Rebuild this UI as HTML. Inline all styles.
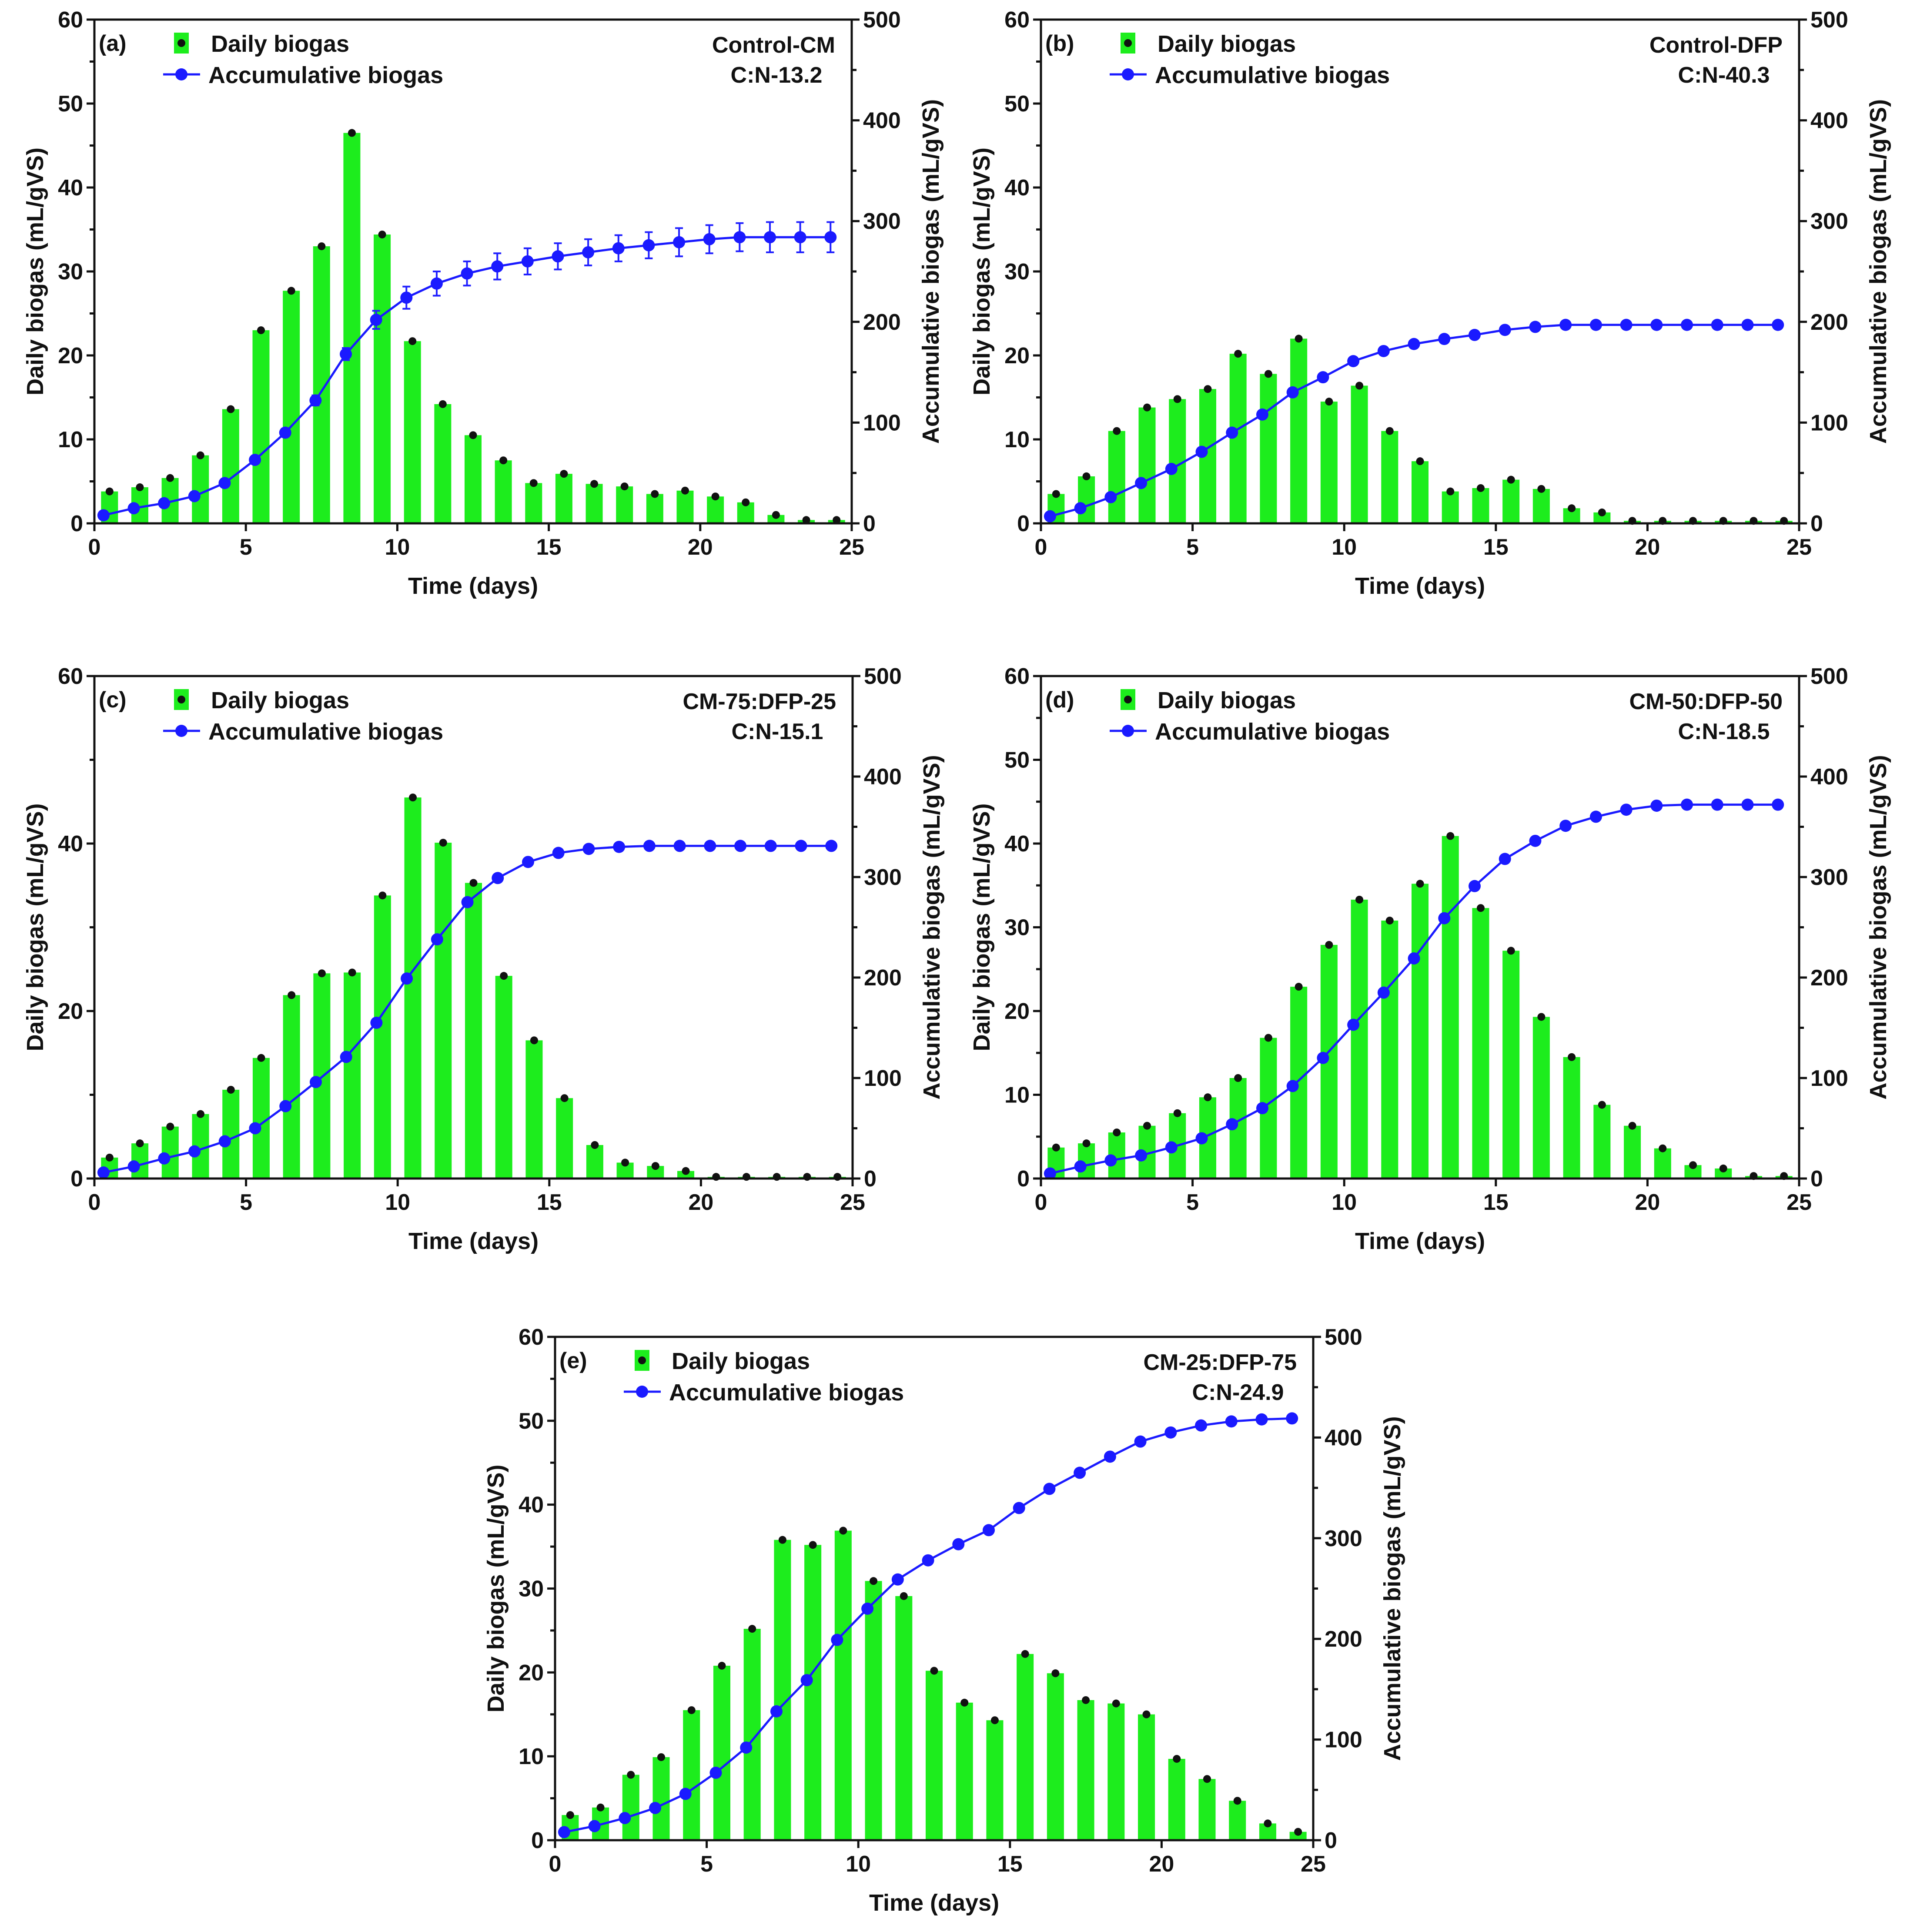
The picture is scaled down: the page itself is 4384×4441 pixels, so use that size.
<!DOCTYPE html>
<html><head><meta charset="utf-8"><style>
html,body{margin:0;padding:0;background:#fff}
svg{display:block}
text{font-family:"Liberation Sans",Arial,sans-serif;font-weight:bold;fill:#111}
</style></head>
<body>
<svg id="fig" width="4384" height="4441" viewBox="0 0 4384 4441" xmlns="http://www.w3.org/2000/svg"></svg>
<script>
// ---- data ----
const days = [0,1,2,3,4,5,6,7,8,9,10,11,12,13,14,15,16,17,18,19,20,21,22,23,24];
const xTicks = [0,5,10,15,20,25];
const rightTicks = [0,100,200,300,400,500];
const leftTicksA = [0,10,20,30,40,50,60];
const leftTicksC = [0,20,40,60];
const dailyA = [3.8,4.3,5.4,8.1,13.6,23,27.7,33,46.5,34.4,21.7,14.2,10.5,7.5,4.8,5.9,4.7,4.4,3.5,3.9,3.2,2.5,1,0.4,0.4];
const accumA = [8,15,20,27,40,63,90,122,168,202,224,238,248,255,260,265,269,273,276,279,282,284,284,284,284];
const errA = [0,0,0,1,2,3,4,5,6,9,11,12,12,13,13,13,13,13,13,14,14,14,15,15,15];
const dailyB = [3.5,5.6,11,13.8,14.8,16,20.2,17.8,22,14.5,16.4,11,7.4,3.8,4.2,5.2,4.1,1.8,1.3,0.3,0.3,0.3,0.3,0.3,0.3];
const accumB = [7,15,26,40,54,71,90,108,130,145,161,171,178,183,187,192,195,197,197,197,197,197,197,197,197];
const dailyC = [2.5,4.2,6.2,7.7,10.6,14.4,21.9,24.5,24.6,33.8,45.5,40.1,35.3,24.2,16.5,9.6,4.0,1.9,1.5,0.9,0.2,0.2,0.2,0.2,0.2];
const accumC = [6,12,20,27,37,50,72,96,121,155,199,238,275,299,315,324,328,330,331,331,331,331,331,331,331];
const dailyD = [3.7,4.2,5.5,6.3,7.8,9.7,12,16.8,22.9,27.9,33.3,30.8,35.2,40.9,32.3,27.2,19.3,14.5,8.8,6.3,3.6,1.6,1.2,0.3,0.3];
const accumD = [5,12,18,23,31,40,54,70,92,120,153,185,219,259,291,318,336,351,360,367,371,372,372,372,372];
const dailyE = [3.0,3.9,7.8,9.9,15.5,20.8,25.2,35.8,35.2,36.9,30.9,29.1,20.2,16.4,14.3,22.2,19.9,16.7,16.3,15.0,9.7,7.3,4.7,2.0,1.0];
const accumE = [8,14,22,32,46,67,92,128,159,199,230,259,278,294,308,330,349,365,381,396,405,412,416,418,419];

const panels = [
 {id:'a', x:217, y:45, w:1741, h:1158, daily:dailyA, accum:accumA, err:errA, lt:leftTicksA, l1:'Control-CM', l2:'C:N-13.2'},
 {id:'b', x:2393, y:45, w:1743, h:1158, daily:dailyB, accum:accumB, err:null, lt:leftTicksA, l1:'Control-DFP', l2:'C:N-40.3'},
 {id:'c', x:217, y:1554, w:1743, h:1155, daily:dailyC, accum:accumC, err:null, lt:leftTicksC, l1:'CM-75:DFP-25', l2:'C:N-15.1'},
 {id:'d', x:2393, y:1554, w:1743, h:1155, daily:dailyD, accum:accumD, err:null, lt:leftTicksA, l1:'CM-50:DFP-50', l2:'C:N-18.5'},
 {id:'e', x:1276, y:3073, w:1743, h:1157, daily:dailyE, accum:accumE, err:null, lt:leftTicksA, l1:'CM-25:DFP-75', l2:'C:N-24.9'}
];

const NS='http://www.w3.org/2000/svg';
const svg=document.getElementById('fig');
function mk(tag, attrs, parent){
  const e=document.createElementNS(NS,tag);
  for(const k in attrs) e.setAttribute(k, attrs[k]);
  (parent||svg).appendChild(e);
  return e;
}

panels.forEach(p=>{
  const g=mk('g',{});
  
  
  const sx=v=>p.x+v/25*p.w;
  const syL=v=>p.y+p.h-v/60*p.h;
  const syR=v=>p.y+p.h-v/500*p.h;

  const bw=0.56/25*p.w;
  days.forEach((d,i)=>{
    const v=p.daily[i];
    const r=mk('rect',{x:sx(d+0.5)-bw/2,y:syL(v),width:bw,height:syL(0)-syL(v),fill:'#1ded1d'},g);
    
    
    const c=mk('circle',{cx:sx(d+0.5),cy:syL(v),r:9,fill:'#111'},g);
    
    
  });

  if(p.err){
    days.forEach((d,i)=>{
      const e=p.err[i]; if(!e) return;
      const x=sx(d+0.3);
      const eb=mk('path',{d:`M${x},${syR(p.accum[i]-e)}V${syR(p.accum[i]+e)}M${x-9},${syR(p.accum[i]-e)}h18M${x-9},${syR(p.accum[i]+e)}h18`,stroke:'#2020ff','stroke-width':4,fill:'none'},g);
      
      
    });
  }
  const pts=days.map((d,i)=>sx(d+0.3)+','+syR(p.accum[i])).join(' ');
  const pl=mk('polyline',{points:pts,fill:'none',stroke:'#1a1aff','stroke-width':5,'stroke-linejoin':'round'},g);
  
  
  days.forEach((d,i)=>{
    const c=mk('circle',{cx:sx(d+0.3),cy:syR(p.accum[i]),r:14,fill:'#1a1aff'},g);
    
    
  });

  const fr=mk('rect',{x:p.x,y:p.y,width:p.w,height:p.h,fill:'none',stroke:'#111','stroke-width':5},g);
  
  

  xTicks.forEach(t=>{
    mk('line',{x1:sx(t),x2:sx(t),y1:p.y+p.h,y2:p.y+p.h+18,stroke:'#111','stroke-width':5},g);
    const tx=mk('text',{x:sx(t),y:p.y+p.h+72,'text-anchor':'middle','font-size':52},g);
    tx.textContent=t;
    
    
  });
  const step=p.lt[1]-p.lt[0];
  for(let v=0; v<=60; v+=step/2){
    const major=p.lt.includes(v);
    mk('line',{x1:p.x,x2:p.x-(major?18:11),y1:syL(v),y2:syL(v),stroke:'#111','stroke-width':5},g);
  }
  p.lt.forEach(t=>{
    const tx=mk('text',{x:p.x-26,y:syL(t)+18,'text-anchor':'end','font-size':52},g);
    tx.textContent=t;
    
    
  });
  for(let v=0; v<=500; v+=50){
    const major=v%100===0;
    mk('line',{x1:p.x+p.w,x2:p.x+p.w+(major?18:11),y1:syR(v),y2:syR(v),stroke:'#111','stroke-width':5},g);
  }
  rightTicks.forEach(t=>{
    const tx=mk('text',{x:p.x+p.w+26,y:syR(t)+18,'text-anchor':'start','font-size':52},g);
    tx.textContent=t;
    
    
  });

  const xt=mk('text',{x:p.x+p.w/2,y:p.y+p.h+162,'text-anchor':'middle','font-size':54},g);
  xt.textContent='Time (days)';
  
  
  const ly=p.y+p.h/2, lx=p.x-118;
  const yl=mk('text',{x:lx,y:ly,'text-anchor':'middle','font-size':54,transform:`rotate(-90 ${lx} ${ly})`},g);
  yl.textContent='Daily biogas (mL/gVS)';
  
  
  const rx=p.x+p.w+200;
  const yr=mk('text',{x:rx,y:ly,'text-anchor':'middle','font-size':54,transform:`rotate(-90 ${rx} ${ly})`},g);
  yr.textContent='Accumulative biogas (mL/gVS)';
  
  

  const pl2=mk('text',{x:p.x+10,y:p.y+72,'font-size':52},g);
  pl2.textContent='('+p.id+')';
  
  

  const lg=mk('g',{},g);
  
  
  const lr=mk('rect',{x:p.x+183,y:p.y+30,width:34,height:48,fill:'#1ded1d'},lg);
  
  
  mk('circle',{cx:p.x+200,cy:p.y+54,r:9,fill:'#111'},lg);
  const lt1=mk('text',{x:p.x+268,y:p.y+74,'font-size':54},lg);
  lt1.textContent='Daily biogas';
  
  
  mk('line',{x1:p.x+158,x2:p.x+243,y1:p.y+126,y2:p.y+126,stroke:'#1a1aff','stroke-width':5},lg);
  mk('circle',{cx:p.x+200,cy:p.y+126,r:14,fill:'#1a1aff'},lg);
  const lt2=mk('text',{x:p.x+262,y:p.y+146,'font-size':54},lg);
  lt2.textContent='Accumulative biogas';
  
  

  const a1=mk('text',{x:p.x+p.w-38,y:p.y+76,'text-anchor':'end','font-size':52},g);
  a1.textContent=p.l1;
  
  
  const a2=mk('text',{x:p.x+p.w-38-135,y:p.y+145,'text-anchor':'middle','font-size':52},g);
  a2.textContent=p.l2;
  
  
});
</script>
</body></html>
